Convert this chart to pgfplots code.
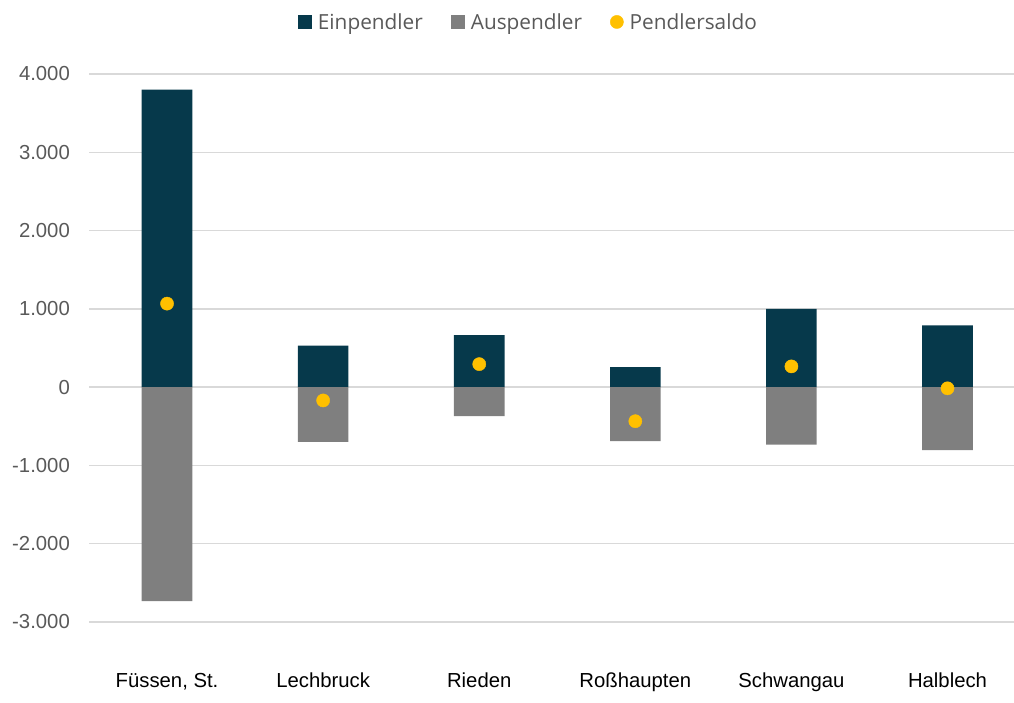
\documentclass[border=0pt]{standalone}
\usepackage{fontspec}
\setmainfont{Liberation Sans}
\newfontfamily\legendfont{Open Sans}
\usepackage{pgfplots}
\pgfplotsset{compat=1.18}
\definecolor{Ein}{HTML}{06394B}
\definecolor{Aus}{HTML}{7F7F7F}
\definecolor{Saldo}{HTML}{FFC000}
\definecolor{GridGray}{HTML}{D9D9D9}
\definecolor{TextGray}{HTML}{595959}

\begin{document}
\begin{tikzpicture}
\begin{axis}[
  at={(89pt,80pt)}, anchor=south west,
  scale only axis, width=925pt, height=548pt,
  xmin=-0.5, xmax=5.426, ymin=-3000, ymax=4000,
  axis line style={draw=none},
  tick style={draw=none},
  ytick={-3000,-2000,...,4000},
  yticklabels={-3.000,-2.000,-1.000,0,1.000,2.000,3.000,4.000},
  xtick={0,1,2,3,4,5},
  xticklabels={{Füssen, St.},Lechbruck,Rieden,Roßhaupten,Schwangau,Halblech},
  ymajorgrids,
  major grid style={line width=1.5pt, draw=GridGray},
  yticklabel style={anchor=east, inner sep=0pt, xshift=-19pt, text=TextGray, font=\fontsize{20.3}{23}\selectfont},
  xticklabel style={anchor=base, yshift=-65pt, text=black, font=\fontsize{20.3}{23}\selectfont},
  legend style={at={(0.475,1.095)}, anchor=center, draw=none, fill=none,
    legend columns=3, text=TextGray, font=\legendfont\fontsize{20.8}{23}\selectfont,
    /tikz/every odd column/.append style={column sep=4pt},
    /tikz/every even column/.append style={column sep=26pt}},
  legend cell align=left,
]
\addplot[ybar, bar width=50.6pt, bar shift=0pt, fill=Ein, draw=none,
  legend image code/.code={\fill[Ein] (0pt,-7pt) rectangle (14pt,7pt);}]
  coordinates {(0,3800) (1,530) (2,665) (3,255) (4,1000) (5,790)};
\addlegendentry{Einpendler}
\addplot[ybar, bar width=50.6pt, bar shift=0pt, fill=Aus, draw=none,
  legend image code/.code={\fill[Aus] (0pt,-7pt) rectangle (14pt,7pt);}]
  coordinates {(0,-2733) (1,-700) (2,-370) (3,-690) (4,-735) (5,-805)};
\addlegendentry{Auspendler}
\addplot[only marks, mark=*, mark size=6.6pt, color=Saldo,
  legend image code/.code={\fill[Saldo] (7pt,0pt) circle (6.6pt);}]
  coordinates {(0,1067) (1,-170) (2,294) (3,-435) (4,265) (5,-15)};
\addlegendentry{Pendlersaldo}
\end{axis}
\pgfresetboundingbox
\useasboundingbox (0,0) rectangle (1014pt,702pt);
\end{tikzpicture}
\end{document}
